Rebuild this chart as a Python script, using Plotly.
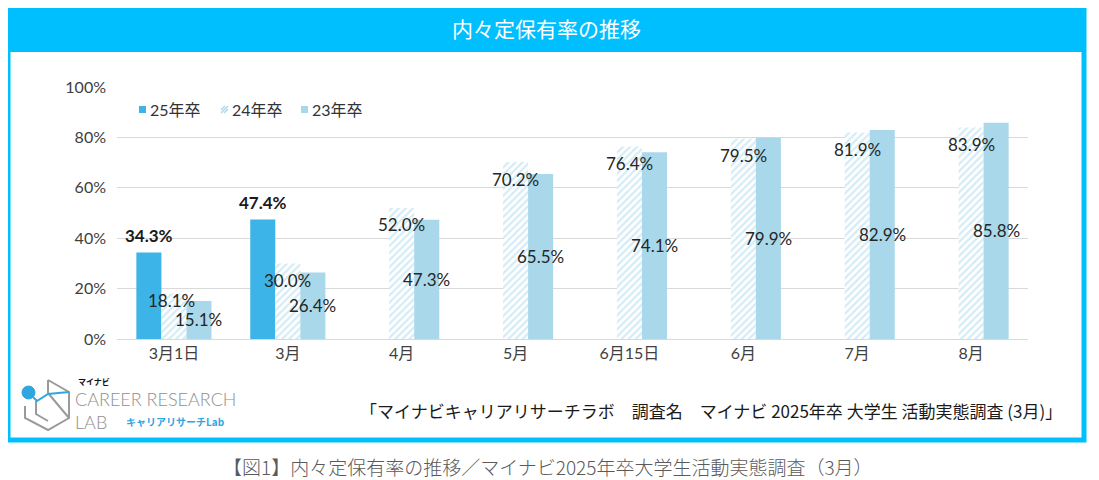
import plotly.graph_objects as go

categories = ["3月1日", "3月", "4月", "5月", "6月15日", "6月", "7月", "8月"]
series_names = ["25年卒", "24年卒", "23年卒"]
vals_25 = [34.3, 47.4, None, None, None, None, None, None]
vals_24 = [18.1, 30.0, 52.0, 70.2, 76.4, 79.5, 81.9, 83.9]
vals_23 = [15.1, 26.4, 47.3, 65.5, 74.1, 79.9, 82.9, 85.8]
y_ticks = [0, 20, 40, 60, 80, 100]
y_tick_labels = ["0%", "20%", "40%", "60%", "80%", "100%"]

title_text = "内々定保有率の推移"
source_text = "「マイナビキャリアリサーチラボ\u3000調査名\u3000マイナビ 2025年卒 大学生 活動実態調査 (3月)」"
caption_text = "【図1】内々定保有率の推移／マイナビ2025年卒大学生活動実態調査（3月）"

C25 = "#3DB4E7"
C24 = "#A9D9EC"
C23 = "#A8D8EA"
CYAN = "#00BFFF"
FONT = "Lato, 'Noto Sans CJK JP', sans-serif"
JFONT = "'Noto Sans CJK JP', sans-serif"

# page body has an 8px margin: the figure starts at (8, 8) in the window
OFF = 8
WIN_W, WIN_H = 1099, 480
W, H = WIN_W - OFF, WIN_H - OFF
# plot area in window pixels
L, R, T, B = 117, 1028, 87, 339


def px(x):
    return (x - L) / (R - L)


def py(y):
    return (B - y) / (B - T)


fig = go.Figure()
fig.add_trace(go.Bar(name=series_names[0], x=categories, y=vals_25,
                     marker=dict(color=C25, line=dict(width=0))))
fig.add_trace(go.Bar(name=series_names[1], x=categories, y=vals_24,
                     marker=dict(color="white", line=dict(width=0),
                                 pattern=dict(shape="/", fgcolor=C24, bgcolor="white",
                                              size=5, solidity=0.45))))
fig.add_trace(go.Bar(name=series_names[2], x=categories, y=vals_23,
                     marker=dict(color=C23, line=dict(width=0))))

annotations = []
BW = 25  # bar offset in px
LBL = 17
for i, c in enumerate(categories):
    v = vals_25[i]
    if v is not None:
        annotations.append(dict(x=c, y=v, xref="x", yref="y", xshift=-BW, yshift=17,
                                text=f"<b>{v:.1f}%</b>", showarrow=False,
                                font=dict(family=FONT, size=LBL, color="#1a1a1a")))
    v = vals_24[i]
    shift = -7 if i == 0 else -17
    annotations.append(dict(x=c, y=v, xref="x", yref="y", xshift=0 if i else -2, yshift=shift,
                            text=f"{v:.1f}%", showarrow=False,
                            font=dict(family=FONT, size=LBL, color="#262626")))
    v = vals_23[i]
    annotations.append(dict(x=c, y=v / 2, xref="x", yref="y", xshift=BW, yshift=0,
                            text=f"{v:.1f}%", showarrow=False,
                            font=dict(family=FONT, size=LBL, color="#262626")))

# custom legend (small square keys right next to the text)
leg_x = [148, 230, 310]
leg_y = 109
for name, x in zip(series_names, leg_x):
    annotations.append(dict(x=px(x), y=py(leg_y), xref="paper", yref="paper", text=name,
                            showarrow=False, xanchor="left", yanchor="middle",
                            font=dict(family=FONT, size=16, color="#333")))

# title, source, caption, logo text
annotations += [
    dict(x=px(546), y=py(28), xref="paper", yref="paper", text=title_text, showarrow=False,
         font=dict(family=JFONT, size=21, color="white"), xanchor="center", yanchor="middle"),
    dict(x=px(1064), y=py(410), xref="paper", yref="paper", text=source_text, showarrow=False,
         font=dict(family=JFONT, size=17, color="#1a1a1a"), xanchor="right", yanchor="middle"),
    dict(x=px(548), y=py(466), xref="paper", yref="paper", text=caption_text, showarrow=False,
         font=dict(family=JFONT, size=19, color="#5a5a5a", weight=300), xanchor="center", yanchor="middle"),
    dict(x=px(77), y=py(381), xref="paper", yref="paper", text="<b>マイナビ</b>", showarrow=False,
         font=dict(family=JFONT, size=8, color="#111"), xanchor="left", yanchor="middle", borderpad=0),
    dict(x=px(74), y=py(410.5), xref="paper", yref="paper", text="CAREER RESEARCH<br>LAB",
         showarrow=False, align="left", borderpad=0,
         font=dict(family="Lato, sans-serif", size=18, color="#8f8f8f", weight=300),
         xanchor="left", yanchor="middle"),
    dict(x=px(124), y=py(421), xref="paper", yref="paper", text="<b>キャリアリサーチLab</b>", showarrow=False,
         font=dict(family=JFONT, size=10, color="#2EA7E0"), xanchor="left", yanchor="middle"),
]

shapes = [
    # outer frame
    dict(type="rect", xref="paper", yref="paper", x0=px(8), x1=px(1084), y0=py(440), y1=py(6),
         line=dict(color=CYAN, width=5), fillcolor="rgba(0,0,0,0)", layer="below"),
    # title bar
    dict(type="rect", xref="paper", yref="paper", x0=px(6), x1=px(1086), y0=py(52), y1=py(4),
         line=dict(width=0), fillcolor=CYAN, layer="below"),
]

# legend keys
kx = [x - 9 for x in leg_x]
shapes.append(dict(type="rect", xref="paper", yref="paper", x0=px(kx[0]), x1=px(kx[0] + 7),
                   y0=py(leg_y + 4), y1=py(leg_y - 3), fillcolor=C25, line=dict(width=0)))
shapes.append(dict(type="rect", xref="paper", yref="paper", x0=px(kx[2]), x1=px(kx[2] + 7),
                   y0=py(leg_y + 4), y1=py(leg_y - 3), fillcolor=C23, line=dict(width=0)))
for d in (0, 3, 6):
    x0 = kx[1] + d - 3
    shapes.append(dict(type="line", xref="paper", yref="paper",
                       x0=px(max(x0, kx[1])), y0=py(leg_y + 4 - max(0, kx[1] - x0)),
                       x1=px(min(x0 + 7, kx[1] + 7)), y1=py(leg_y - 3 + max(0, x0 + 7 - kx[1] - 7)),
                       line=dict(color=C24, width=1.5)))


def path(points):
    return "M " + " L ".join(f"{px(x)},{py(y)}" for x, y in points)


gray = "#9a9a9a"
blue = "#2EA7E0"
for pts in [
    [(48, 380), (69, 392), (69, 418), (48, 430), (25, 418), (25, 406)],
    [(48, 380), (48, 393)],
    [(48, 393), (69, 418)],
    [(36, 401), (36, 414), (48, 421)],
]:
    shapes.append(dict(type="path", xref="paper", yref="paper", path=path(pts),
                       line=dict(color=gray, width=2)))
shapes.append(dict(type="path", xref="paper", yref="paper",
                   path=path([(29, 393), (37, 401), (48, 394), (69, 392)]),
                   line=dict(color=blue, width=2)))
shapes.append(dict(type="circle", xref="paper", yref="paper",
                   x0=px(22), x1=px(35), y0=py(399), y1=py(386),
                   fillcolor=blue, line=dict(color=blue, width=1)))

fig.update_layout(
    width=W, height=H,
    margin=dict(l=L - OFF, r=WIN_W - R, t=T - OFF, b=WIN_H - B, autoexpand=False),
    paper_bgcolor="white", plot_bgcolor="white",
    barmode="group", bargap=0.34, bargroupgap=0,
    font=dict(family=FONT, size=16, color="#404040"),
    showlegend=False,
    xaxis=dict(type="category", showgrid=False, showline=True, linecolor="#d9d9d9", linewidth=1,
               ticks="", tickfont=dict(family=FONT, size=16, color="#404040"), fixedrange=True),
    yaxis=dict(range=[0, 100], tickvals=y_ticks, ticktext=y_tick_labels, showgrid=True,
               gridcolor="#d9d9d9", gridwidth=1, zeroline=False, showline=False, ticks="",
               ticklabelstandoff=10,
               tickfont=dict(family=FONT, size=16, color="#404040"), fixedrange=True),
    annotations=annotations,
    shapes=shapes,
)

fig.write_html("out.html")
